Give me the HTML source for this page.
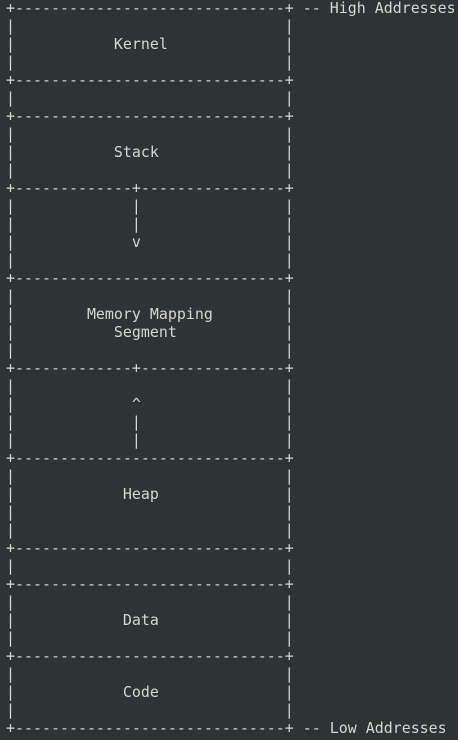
<!DOCTYPE html>
<html><head><meta charset="utf-8"><style>
html,body{margin:0;padding:0;background:#2e3436;width:458px;height:740px;overflow:hidden}
pre{margin:0;position:absolute;left:6px;top:-1px;font-family:"DejaVu Sans Mono","Liberation Mono",monospace;font-size:14.95px;line-height:18px;color:#d3d7cf}
</style></head><body><pre>+------------------------------+ -- High Addresses
|                              |
|           Kernel             |
|                              |
+------------------------------+
|                              |
+------------------------------+
|                              |
|           Stack              |
|                              |
+-------------+----------------+
|             |                |
|             |                |
|             v                |
|                              |
+------------------------------+
|                              |
|        Memory Mapping        |
|           Segment            |
|                              |
+-------------+----------------+
|                              |
|             ^                |
|             |                |
|             |                |
+------------------------------+
|                              |
|            Heap              |
|                              |
|                              |
+------------------------------+
|                              |
+------------------------------+
|                              |
|            Data              |
|                              |
+------------------------------+
|                              |
|            Code              |
|                              |
+------------------------------+ -- Low Addresses</pre></body></html>
